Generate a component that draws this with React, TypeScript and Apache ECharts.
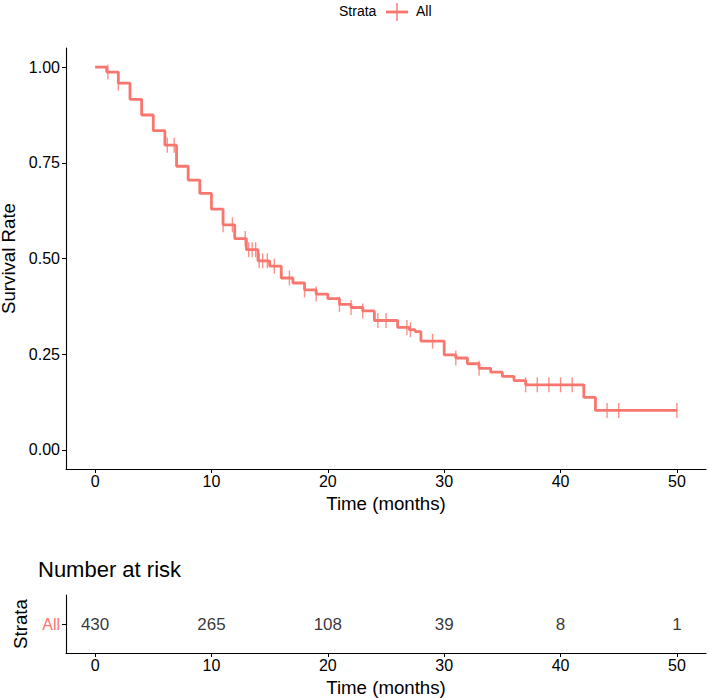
import React, { useEffect, useRef } from "react";
import * as echarts from "echarts";

// Kaplan-Meier step points: time (months) and survival level from that time on
const stepTimes = [0, 1, 2, 3, 4, 5, 6, 7, 8, 9, 10, 11, 12, 13, 14, 15, 16, 17, 18, 19, 20, 21, 22, 23, 24, 26, 27, 27.5, 28, 30, 31, 32, 33, 34, 35, 36, 37, 42, 43, 50];
const survival = [1.0, 0.987, 0.958, 0.916, 0.875, 0.834, 0.796, 0.741, 0.705, 0.67, 0.629, 0.588, 0.552, 0.523, 0.494, 0.48, 0.449, 0.436, 0.418, 0.407, 0.395, 0.38, 0.372, 0.363, 0.338, 0.32, 0.314, 0.309, 0.284, 0.248, 0.24, 0.225, 0.213, 0.203, 0.192, 0.181, 0.17, 0.137, 0.103, 0.103];

// censoring times
const censorTimes = [1.1, 2, 6.2, 6.8, 11, 11.8, 12.9, 13.2, 13.5, 13.8, 14.1, 14.4, 14.8, 15.4, 16.7, 18, 19, 21, 22, 23, 24.3, 25, 26.8, 27.1, 29, 31, 33, 37, 38, 39, 40, 41, 44, 45, 50];

// risk table
const strata = ["All"];
const riskTimes = [0, 10, 20, 30, 40, 50];
const riskCounts = [430, 265, 108, 39, 8, 1];

const xTicks = [0, 10, 20, 30, 40, 50];
const yTicks = [0, 0.25, 0.5, 0.75, 1];

const RED = "#F8766D";
const FONT = "'Liberation Sans', Arial, sans-serif";

function levelAt(t: number): number {
  let s = survival[0];
  for (let i = 0; i < stepTimes.length; i++) {
    if (stepTimes[i] <= t) s = survival[i];
  }
  return s;
}

export default function App() {
  const ref = useRef<HTMLDivElement>(null);
  useEffect(() => {
    if (!ref.current) return;
    const chart = echarts.init(ref.current, undefined, { renderer: "svg" });
    const axisLine = { show: true, onZero: false, lineStyle: { color: "#000", width: 1.1 } };
    const xAxisBase = (gridIndex: number) => ({
      gridIndex,
      type: "value",
      min: -2.5,
      max: 52.5,
      splitLine: { show: false },
      axisLine,
      axisTick: { show: true, customValues: xTicks, length: 4, lineStyle: { color: "#000" } },
      axisLabel: { customValues: xTicks, color: "#000", fontSize: 16, margin: 4, fontFamily: FONT },
      name: "Time (months)",
      nameLocation: "middle",
      nameGap: 25,
      nameTextStyle: { fontSize: 18.67, color: "#000", fontFamily: FONT },
    });
    const option: any = {
      animation: false,
      textStyle: { fontFamily: FONT },
      grid: [
        { left: 66, right: 2, top: 48, height: 421, outerBoundsMode: "none", containLabel: false },
        { left: 66, right: 2, top: 595, height: 58, outerBoundsMode: "none", containLabel: false },
      ],
      xAxis: [xAxisBase(0), xAxisBase(1)],
      yAxis: [
        {
          gridIndex: 0,
          type: "value",
          min: -0.05,
          max: 1.05,
          splitLine: { show: false },
          axisLine,
          axisTick: { show: true, customValues: yTicks, length: 4, lineStyle: { color: "#000" } },
          axisLabel: {
            customValues: yTicks,
            color: "#000",
            fontSize: 16,
            margin: 6,
            fontFamily: FONT,
            formatter: (v: number) => v.toFixed(2),
          },
          name: "Survival Rate",
          nameLocation: "middle",
          nameGap: 36,
          nameTextStyle: { fontSize: 18.67, color: "#000", fontFamily: FONT },
        },
        {
          gridIndex: 1,
          type: "category",
          data: strata,
          axisLine,
          axisTick: { show: true, alignWithLabel: true, length: 4, lineStyle: { color: "#000" } },
          axisLabel: { color: RED, fontSize: 16, margin: 6, fontFamily: FONT },
          name: "Strata",
          nameLocation: "middle",
          nameGap: 36,
          nameTextStyle: { fontSize: 18.67, color: "#000", fontFamily: FONT },
        },
      ],
      series: [
        {
          type: "line",
          xAxisIndex: 0,
          yAxisIndex: 0,
          step: "end",
          symbol: "none",
          data: stepTimes.map((t, i) => [t, survival[i]]),
          lineStyle: { color: RED, width: 2.8 },
        },
        {
          type: "scatter",
          xAxisIndex: 0,
          yAxisIndex: 0,
          symbol: "rect",
          symbolSize: [1.4, 15],
          data: censorTimes.map((t) => [t, levelAt(t)]),
          itemStyle: { color: RED },
        },
        {
          type: "scatter",
          xAxisIndex: 1,
          yAxisIndex: 1,
          symbolSize: 0,
          data: riskTimes.map((t, i) => [t, strata[0], riskCounts[i]]),
          label: {
            show: true,
            position: "inside",
            formatter: (p: any) => String(p.value[2]),
            color: "#000",
            fontSize: 17,
            fontFamily: FONT,
          },
        },
      ],
      graphic: [
        { type: "text", left: 339, top: 4, style: { text: "Strata", fontSize: 14, fill: "#000", fontFamily: FONT } },
        { type: "line", shape: { x1: 386, y1: 12, x2: 408, y2: 12 }, style: { stroke: RED, lineWidth: 2.8 } },
        { type: "line", shape: { x1: 397, y1: 3, x2: 397, y2: 21 }, style: { stroke: RED, lineWidth: 1.4 } },
        { type: "text", left: 416, top: 4, style: { text: "All", fontSize: 14, fill: "#000", fontFamily: FONT } },
        { type: "text", left: 38, top: 558, style: { text: "Number at risk", fontSize: 22, fill: "#000", fontFamily: FONT } },
      ],
    };
    chart.setOption(option);
    return () => chart.dispose();
  }, []);
  return (
    <div
      ref={ref}
      style={{ position: "absolute", left: 0, top: 0, width: 708, height: 698, background: "#fff" }}
    />
  );
}
